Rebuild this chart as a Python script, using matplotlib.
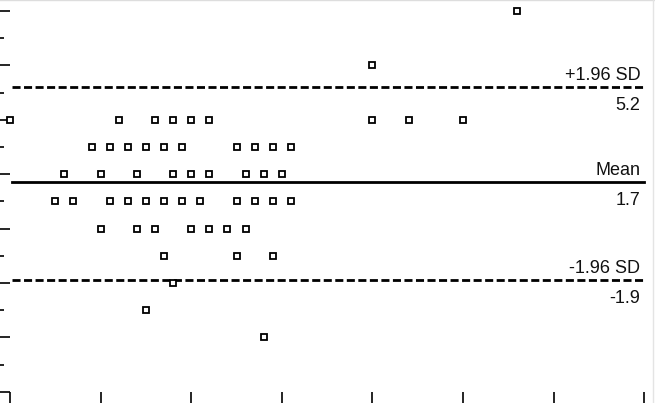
import matplotlib
matplotlib.use("Agg")
import matplotlib.pyplot as plt
from matplotlib.lines import Line2D
from matplotlib.ticker import MultipleLocator

plt.rcParams['font.family'] = ['Liberation Sans', 'DejaVu Sans']

# average of the two methods (x) and their difference (y)
avg_values = [28,
              20,
              0, 6, 8, 9, 10, 11, 20, 22, 25,
              4.5, 5.5, 6.5, 7.5, 8.5, 9.5, 12.5, 13.5, 14.5, 15.5,
              3, 5, 7, 9, 10, 11, 13, 14, 15,
              2.5, 3.5, 5.5, 6.5, 7.5, 8.5, 9.5, 10.5, 12.5, 13.5, 14.5, 15.5,
              5, 7, 8, 10, 11, 12, 13,
              8.5, 12.5, 14.5,
              9,
              7.5,
              14]
diff_values = [8,
               6,
               4, 4, 4, 4, 4, 4, 4, 4, 4,
               3, 3, 3, 3, 3, 3, 3, 3, 3, 3,
               2, 2, 2, 2, 2, 2, 2, 2, 2,
               1, 1, 1, 1, 1, 1, 1, 1, 1, 1, 1, 1,
               0, 0, 0, 0, 0, 0, 0,
               -1, -1, -1,
               -2,
               -3,
               -4]

mean_diff = 1.7
upper_loa = 5.2
lower_loa = -1.9
line_labels = [("+1.96 SD", "5.2"), ("Mean", "1.7"), ("-1.96 SD", "-1.9")]

fig = plt.figure(figsize=(6.55, 4.03), dpi=100)
ax = fig.add_axes([0, 0, 1, 1])

ax.plot(avg_values, diff_values, linestyle='none', marker='s', ms=3.8,
        mfc='white', mec='black', mew=1.3, zorder=3)

x_end = 35
ax.plot([0.1, x_end], [mean_diff, mean_diff], color='black', lw=2)
for val in (upper_loa, lower_loa):
    ax.plot([0.1, x_end], [val, val], color='black', lw=2,
            dashes=(2.9, 1.25), dash_capstyle='butt')

for (top, bottom), val in zip(line_labels, (upper_loa, mean_diff, lower_loa)):
    ax.annotate(top, (x_end, val), xytext=(-4, 7), textcoords='offset pixels',
                ha='right', va='baseline', fontsize=13, color='#111111')
    ax.annotate(bottom, (x_end, val), xytext=(-4, -23), textcoords='offset pixels',
                ha='right', va='baseline', fontsize=13, color='#111111')

ax.set_xlim(-10 / 18.12, 645 / 18.12)
ax.set_ylim(-(403 - 228.6) / 27.2, 228.6 / 27.2)

ax.xaxis.set_major_locator(MultipleLocator(5))
ax.yaxis.set_major_locator(MultipleLocator(2))
ax.yaxis.set_minor_locator(MultipleLocator(1))
ax.tick_params(axis='y', which='major', direction='in', length=7.2, width=1.2,
               labelleft=False, left=True)
ax.tick_params(axis='y', which='minor', direction='in', length=2.9, width=1.2)
ax.tick_params(axis='x', which='major', direction='in', length=7.9, width=1.2,
               labelbottom=False)
for s in ax.spines.values():
    s.set_visible(False)

# faint border of the cropped image
fig.add_artist(Line2D([0, 1], [0.999, 0.999], transform=fig.transFigure,
                      color='#dddddd', lw=1))
fig.add_artist(Line2D([653 / 655, 653 / 655], [0, 1], transform=fig.transFigure,
                      color='#e4e4e4', lw=1))

fig.savefig("out.png", dpi=100)
